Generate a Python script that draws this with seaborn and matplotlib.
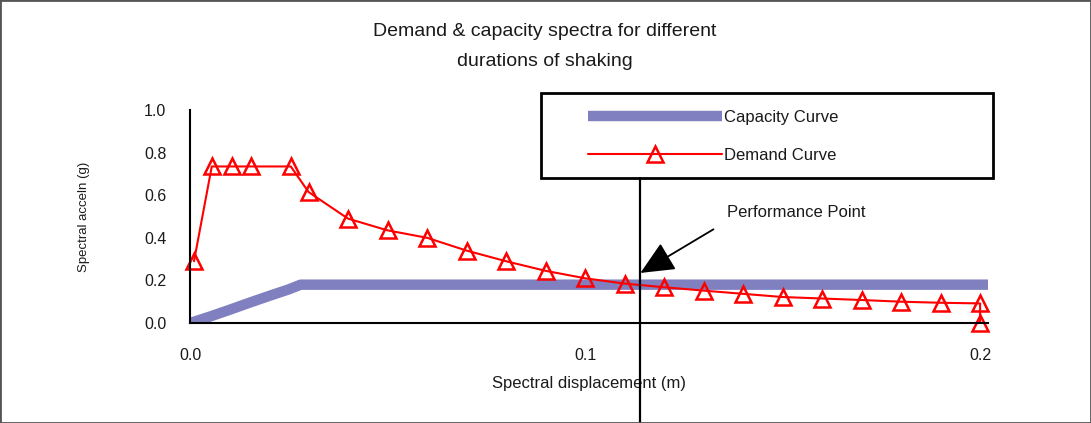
import matplotlib
matplotlib.use("Agg")
import matplotlib.pyplot as plt
import seaborn as sns
from matplotlib.patches import Rectangle

# ---- data ----
cap_x = [0.0, 0.005, 0.010, 0.015, 0.020, 0.025, 0.028, 0.202]
cap_y = [0.0, 0.030, 0.062, 0.095, 0.127, 0.158, 0.180, 0.180]

dem_x = [0.001, 0.0055, 0.0105, 0.0155, 0.0255, 0.030, 0.040, 0.050, 0.060, 0.070,
         0.080, 0.090, 0.100, 0.110, 0.120, 0.130, 0.140, 0.150, 0.160, 0.170,
         0.180, 0.190, 0.200, 0.200]
dem_y = [0.29, 0.735, 0.735, 0.735, 0.735, 0.615, 0.49, 0.435, 0.40, 0.34,
         0.29, 0.245, 0.21, 0.185, 0.168, 0.152, 0.137, 0.122, 0.115, 0.108,
         0.100, 0.095, 0.092, 0.0]

perf_x = 0.114
perf_y = 0.185

x_ticks = [0.0, 0.1, 0.2]
x_ticklabels = ["0.0", "0.1", "0.2"]
y_ticks = [0.0, 0.2, 0.4, 0.6, 0.8, 1.0]
y_ticklabels = ["0.0", "0.2", "0.4", "0.6", "0.8", "1.0"]

title = "Demand & capacity spectra for different\ndurations of shaking"
xlabel = "Spectral displacement (m)"
ylabel = "Spectral acceln (g)"

# ---- styling ----
sns.set_style("white")
plt.rcParams["font.family"] = ["Liberation Sans", "DejaVu Sans"]
TXT = "#1a1a1a"

fig = plt.figure(figsize=(10.91, 4.23), dpi=100)
ax = fig.add_axes([0.1742, 0.2364, 0.7314, 0.5035])

sns.lineplot(x=cap_x, y=cap_y, ax=ax, color="#8080C0", linewidth=7.5,
             sort=False, estimator=None, label="Capacity Curve",
             solid_capstyle="butt")
sns.lineplot(x=dem_x, y=dem_y, ax=ax, color="red", linewidth=1.5,
             sort=False, estimator=None, label="Demand Curve",
             marker="^", markersize=12, markerfacecolor="none",
             markeredgecolor="red", markeredgewidth=1.8, clip_on=False)

ax.set_xlim(0, 0.202)
ax.set_ylim(0, 1.0)
ax.set_xticks(x_ticks)
ax.set_xticklabels(x_ticklabels)
ax.set_yticks(y_ticks)
ax.set_yticklabels(y_ticklabels)
for s in ["top", "right"]:
    ax.spines[s].set_visible(False)
for s in ["left", "bottom"]:
    ax.spines[s].set_color("black")
    ax.spines[s].set_linewidth(1.5)
ax.tick_params(axis="both", direction="out", length=5, width=1.2, colors="black",
               labelcolor=TXT, labelsize=11.5)
ax.tick_params(axis="x", pad=13)
ax.tick_params(axis="y", pad=12)
ax.set_xlabel(xlabel, fontsize=12, color=TXT, labelpad=9)
ax.set_ylabel(ylabel, fontsize=9.5, color=TXT, labelpad=39)
ax.grid(False)

# performance point marker line and arrow
ax.plot([perf_x, perf_x], [0.68, -0.49], color="black", lw=1.6, clip_on=False,
        zorder=5)
ax.annotate("", xy=(perf_x, 0.235), xytext=(0.1325, 0.44),
            arrowprops=dict(arrowstyle="-|>,head_length=0.7,head_width=0.32",
                            color="black", lw=1.3,
                            mutation_scale=30, shrinkA=0, shrinkB=0))
ax.text(0.136, 0.52, "Performance Point", fontsize=12, color=TXT,
        ha="left", va="center")

# legend
leg = ax.legend(loc="upper left", bbox_to_anchor=(580 / 1091, 1 - 102 / 423),
                bbox_transform=fig.transFigure, frameon=False, borderpad=0,
                fontsize=12, handlelength=8.0, handletextpad=0.15,
                labelspacing=1.35)
for t in leg.get_texts():
    t.set_color(TXT)
fig.patches.append(Rectangle((541 / 1091, 1 - 178 / 423), 452 / 1091, 85 / 423,
                             transform=fig.transFigure, fill=False,
                             edgecolor="black", lw=2))

fig.text(545 / 1091, 1 - 46.5 / 423, title, ha="center", va="center",
         fontsize=14, color=TXT, linespacing=1.95)

fig.patches.append(Rectangle((0, 0), 1, 1, transform=fig.transFigure,
                             fill=False, edgecolor="#555555", lw=2))

fig.savefig("out.png", dpi=100)
